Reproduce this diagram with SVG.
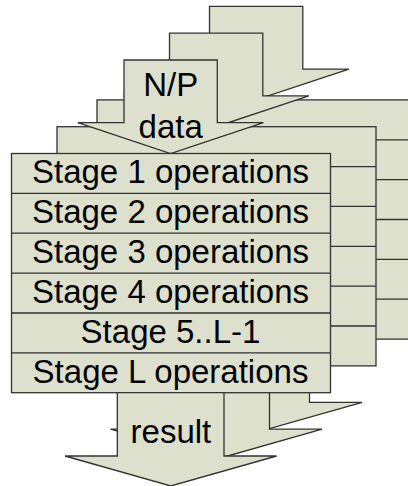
<svg xmlns="http://www.w3.org/2000/svg" xmlns:xlink="http://www.w3.org/1999/xlink" width="408" height="486" viewBox="0 0 408 486">
  <style>
    .shape { fill: #dde0cc; stroke: #333333; stroke-width: 1.3; stroke-linejoin: miter; }
    .row { fill: none; stroke: #333333; stroke-width: 1.3; }
    .label { font-family: "Liberation Sans", Arial, sans-serif; font-size: 33px; fill: #000000; text-anchor: middle; }
  </style>
  <defs>
    <!-- block arrow feeding a processor's data in -->
    <polygon id="arrow-in" class="shape" points="124,60 217.3,60 217.3,122.7 263.4,122.7 170.6,153.5 77.8,122.7 124,122.7"/>
    <!-- stack of six pipeline stages -->
    <g id="stage-stack">
      <rect class="shape" x="11.5" y="153.5" width="319" height="239.2"/>
      <path class="row" d="M11.5,193.4H330.5 M11.5,233.2H330.5 M11.5,273.1H330.5 M11.5,313H330.5 M11.5,352.8H330.5"/>
    </g>
    <!-- block arrow carrying the result out -->
    <polygon id="arrow-out" class="shape" points="117.3,392.7 224,392.7 224,456 276.6,456 170.8,486 65,456 117.3,456"/>
  </defs>

  <!-- processor 3 (rearmost) -->
  <g id="proc3" transform="translate(85.5,-53.6)">
    <g id="proc3-input"><use xlink:href="#arrow-in"/></g>
    <g id="proc3-stages"><use xlink:href="#stage-stack"/></g>
    <g id="proc3-result"><use xlink:href="#arrow-out"/></g>
  </g>

  <!-- processor 2 -->
  <g id="proc2" transform="translate(45.5,-26.8)">
    <g id="proc2-input"><use xlink:href="#arrow-in"/></g>
    <g id="proc2-stages"><use xlink:href="#stage-stack"/></g>
    <g id="proc2-result"><use xlink:href="#arrow-out"/></g>
  </g>

  <!-- processor 1 (front, labelled) -->
  <g id="proc1">
    <g id="proc1-input">
      <use xlink:href="#arrow-in"/>
      <text class="label" x="170.7" y="95.7">N/P</text>
      <text class="label" x="170.7" y="137.7">data</text>
    </g>
    <g id="proc1-stages">
      <use xlink:href="#stage-stack"/>
      <text class="label" x="170.5" y="183.3">Stage 1 operations</text>
      <text class="label" x="170.5" y="223.2">Stage 2 operations</text>
      <text class="label" x="170.5" y="263">Stage 3 operations</text>
      <text class="label" x="170.5" y="302.9">Stage 4 operations</text>
      <text class="label" x="170.5" y="342.6">Stage 5..L-1</text>
      <text class="label" x="170.5" y="382.6">Stage L operations</text>
    </g>
    <g id="proc1-result">
      <use xlink:href="#arrow-out"/>
      <text class="label" x="170.9" y="443">result</text>
    </g>
  </g>

  <!-- the block arrows above are the only connectors -->
  <g id="connectors"/>
</svg>
